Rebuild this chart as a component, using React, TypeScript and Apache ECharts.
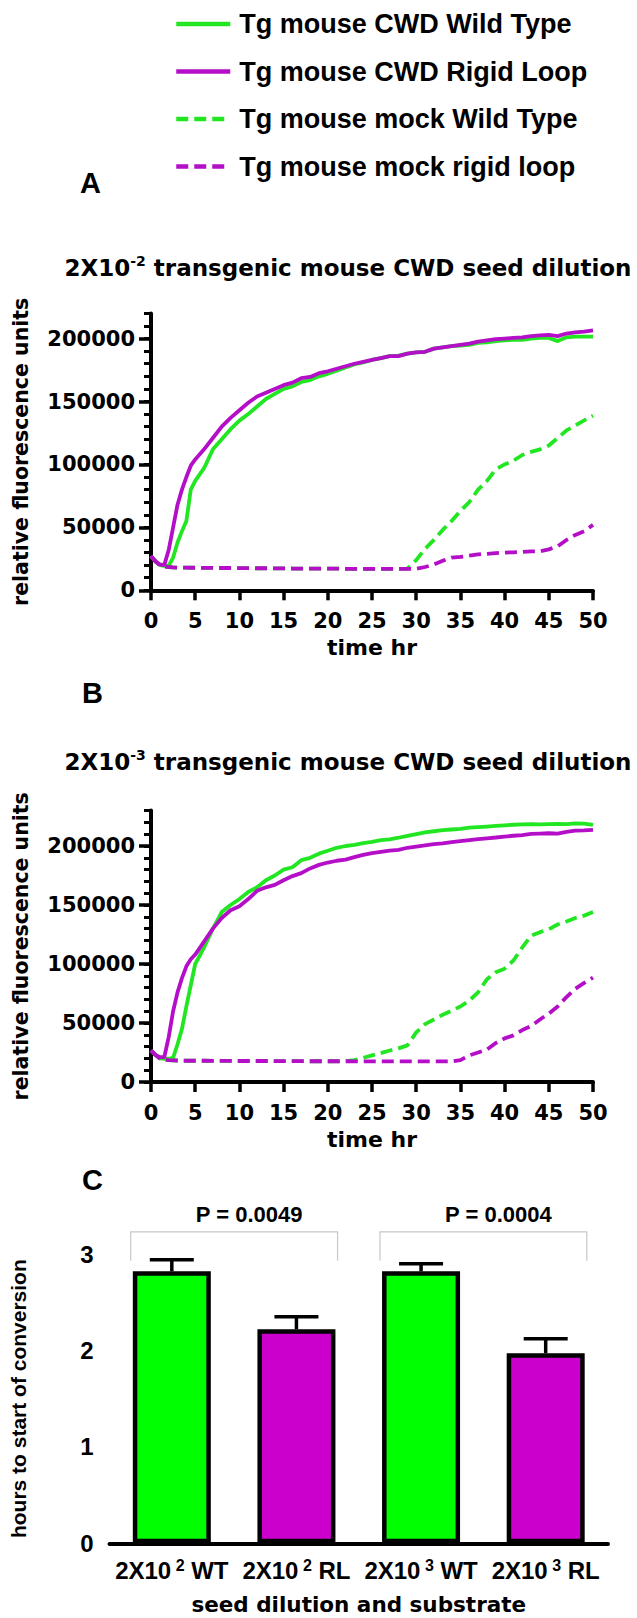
import React, { useEffect, useRef } from "react";
import * as echarts from "echarts";

// ---------- data ----------
const seriesNames = [
  "Tg mouse CWD Wild Type",
  "Tg mouse CWD Rigid Loop",
  "Tg mouse mock Wild Type",
  "Tg mouse mock rigid loop",
];

const timeHr = [
  0, 0.5, 1, 1.5, 2, 2.5, 3, 3.5, 4, 4.5, 5,
  6, 7, 8, 9, 10, 11, 12, 13, 14, 15,
  16, 17, 18, 19, 20, 21, 22, 23, 24, 25,
  26, 27, 28, 29, 30, 31, 32, 33, 34, 35,
  36, 37, 38, 39, 40, 41, 42, 43, 44, 45,
  46, 47, 48, 49, 50,
];

// Panel A: 2X10^-2 seed dilution
const aCwdWT = [
  27000, 23000, 20000, 19500, 19500, 26000, 38000, 47000, 55000, 80000, 87000,
  97000, 112000, 120000, 128000, 134800, 140000, 146000, 152000, 156000, 160000,
  162000, 165500, 167000, 170000, 172000, 174500, 177000, 179500, 181000, 183000,
  184500, 186000, 186500, 188000, 189000, 189500, 192000, 193000, 194000, 194500,
  195000, 196500, 197000, 198000, 198500, 199000, 199000, 200000, 200500, 200500,
  198000, 201000, 201500, 201500, 201500,
];
const aCwdRL = [
  27000, 23000, 20500, 20000, 32000, 50000, 68000, 80000, 90000, 99000, 104000,
  112000, 121000, 130000, 137000, 143000, 149000, 154000, 157000, 160000, 163000,
  165000, 168500, 169500, 172500, 174000, 176000, 178000, 180000, 181500, 183000,
  184500, 186000, 186000, 188000, 189000, 189500, 192000, 193000, 194000, 195000,
  196000, 197500, 198500, 199500, 200000, 200500, 201000, 202000, 202500, 203000,
  202000, 204000, 205000, 205500, 206500,
];
const aMockWT = [
  27000, 23000, 20000, 19000, 18500, 18200, 18000, 18000, 18000, 17900, 17900,
  17800, 17800, 17700, 17700, 17600, 17600, 17500, 17500, 17400, 17400,
  17300, 17300, 17300, 17200, 17200, 17200, 17100, 17100, 17100, 17000,
  17000, 17000, 17000, 17200, 24000, 33000, 40000, 48000, 55000, 63000,
  70000, 80000, 87000, 96000, 100000, 103000, 107500, 110000, 112000, 115000,
  121000, 127000, 131000, 135000, 138800,
];
const aMockRL = [
  27000, 23000, 20000, 19000, 18500, 18200, 18000, 18000, 18000, 17900, 17900,
  17800, 17800, 17700, 17700, 17600, 17600, 17500, 17500, 17400, 17400,
  17300, 17300, 17300, 17200, 17200, 17200, 17100, 17100, 17100, 17000,
  17000, 17000, 17000, 17000, 17000, 18500, 20500, 23500, 26000, 26500,
  27500, 28500, 29000, 29500, 30000, 30200, 30500, 31000, 31000, 32500,
  35000, 40000, 44000, 47000, 52000,
];

// Panel B: 2X10^-3 seed dilution
const bCwdWT = [
  26700, 23000, 20000, 19700, 19700, 20500, 32000, 45000, 64000, 82000, 100000,
  114000, 130000, 144000, 150000, 155000, 161000, 165000, 171000, 175000, 180000,
  182000, 188000, 190000, 193500, 196000, 198500, 200000, 201000, 202500, 203500,
  205000, 205700, 207000, 208500, 210000, 211500, 212500, 213500, 214000, 214500,
  215500, 216000, 216500, 217000, 217500, 218000, 218300, 218500, 218300, 218600,
  218800, 218600, 219200, 219000, 217800,
];
const bCwdRL = [
  26700, 23000, 21000, 21000, 38000, 60000, 76000, 88000, 98000, 104000, 108000,
  119000, 130000, 139000, 145500, 149000, 155000, 162000, 165000, 167000, 171000,
  174500, 177000, 181000, 184000, 186000, 187500, 188500, 190500, 192500, 193900,
  195000, 196000, 196800, 198500, 199500, 200500, 201500, 202300, 203300, 204200,
  205000, 205800, 206500, 207200, 208000, 208700, 209300, 210200, 210500, 210800,
  210500, 212000, 213000, 213200, 213600,
];
const bMockWT = [
  26700, 23000, 20000, 19000, 18500, 18300, 18200, 18100, 18000, 18000, 18000,
  18000, 17900, 17900, 17900, 17800, 17800, 17800, 17800, 17700, 17700,
  17700, 17700, 17600, 17600, 17600, 17600, 17600, 18500, 20500, 22500,
  24500, 26700, 28500, 31000, 42000, 49000, 53000, 57000, 60500, 64000,
  69000, 76000, 87000, 93000, 96000, 103000, 114000, 124000, 127000, 129500,
  133500, 136000, 139000, 141000, 144000,
];
const bMockRL = [
  26700, 23000, 20000, 19000, 18500, 18300, 18200, 18100, 18000, 18000, 18000,
  18000, 17900, 17900, 17900, 17800, 17800, 17800, 17800, 17700, 17700,
  17700, 17700, 17600, 17600, 17600, 17600, 17600, 17500, 17500, 17500,
  17500, 17500, 17500, 17500, 17500, 17500, 17500, 17500, 17500, 18500,
  22500, 25000, 27500, 33000, 37000, 39500, 44000, 47500, 53000, 58000,
  64000, 72000, 79000, 84000, 88500,
];

const yTicksAB = [0, 50000, 100000, 150000, 200000];
const xTicksAB = [0, 5, 10, 15, 20, 25, 30, 35, 40, 45, 50];

// Panel C
const barCategories = ["2X10^2 WT", "2X10^2 RL", "2X10^3 WT", "2X10^3 RL"];
const barMeans = [2.82, 2.22, 2.82, 1.97];
const barErrors = [0.12, 0.13, 0.08, 0.15];
const bracketFrom = [0, 2];
const bracketTo = [1, 3];
const bracketTop = [3.23, 3.23];
const bracketFoot = [2.93, 2.93];
const pLabels = ["P = 0.0049", "P = 0.0004"];

// ---------- styles ----------
const WIDE = '"DejaVu Sans", sans-serif';
const ARIAL = '"Liberation Sans", Arial, sans-serif';
const GREEN_LINE = "#22e622";
const MAGENTA_LINE = "#b40ec8";
const GREEN_BAR = "#00ff00";
const MAGENTA_BAR = "#cc00cc";
const DASH = [12, 6];

const lineColors = [GREEN_LINE, MAGENTA_LINE, GREEN_LINE, MAGENTA_LINE];
const lineTypes: any[] = ["solid", "solid", DASH, DASH];
const lineZ = [2, 4, 3, 5];

function pairs(vals: number[]) {
  return timeHr.map((t, i) => [t, vals[i]]);
}

function lineSeries(dataSets: number[][], xIdx: number, yIdx: number) {
  return dataSets.map((vals, k) => ({
    type: "line",
    name: seriesNames[k],
    xAxisIndex: xIdx,
    yAxisIndex: yIdx,
    data: pairs(vals),
    symbol: "none",
    showSymbol: false,
    z: lineZ[k],
    lineStyle: { color: lineColors[k], width: 3.8, type: lineTypes[k] },
    itemStyle: { color: lineColors[k] },
  }));
}

const axisBlack = { lineStyle: { color: "#000", width: 4 } };

function timeXAxis(gridIndex: number) {
  return {
    gridIndex,
    type: "value",
    min: 0,
    max: 50,
    interval: 5,
    axisLine: { onZero: false, ...axisBlack },
    axisTick: { length: 10, lineStyle: { color: "#000", width: 3.5 } },
    axisLabel: {
      margin: 19,
      color: "#000",
      fontFamily: WIDE,
      fontWeight: "bold",
      fontSize: 21,
      lineHeight: 23,
      customValues: xTicksAB,
    },
    splitLine: { show: false },
    name: "time hr",
    nameLocation: "middle",
    nameGap: 46,
    nameMoveOverlap: false,
    nameTextStyle: { color: "#000", fontFamily: WIDE, fontWeight: "bold", fontSize: 22, lineHeight: 22 },
  };
}

function rfuYAxes(gridIndex: number, max: number) {
  return [
    {
      gridIndex,
      type: "value",
      position: "left",
      offset: 0,
      min: 0,
      max,
      interval: 10000,
      axisLine: axisBlack,
      axisTick: { length: 7, lineStyle: { color: "#000", width: 3 } },
      axisLabel: {
        margin: 16,
        color: "#000",
        fontFamily: WIDE,
        fontWeight: "bold",
        fontSize: 21,
        formatter: (v: number) => (yTicksAB.indexOf(v) >= 0 ? String(v) : ""),
      },
      splitLine: { show: false },
      name: "relative fluorescence units",
      nameLocation: "middle",
      nameRotate: 90,
      nameGap: 120,
      nameMoveOverlap: false,
      nameTextStyle: { color: "#000", fontFamily: WIDE, fontWeight: "bold", fontSize: 20.5, lineHeight: 21 },
    },
    {
      gridIndex,
      type: "value",
      position: "left",
      offset: 0,
      min: 0,
      max,
      interval: 50000,
      axisLine: { show: false },
      axisTick: { length: 12, lineStyle: { color: "#000", width: 3.5 }, customValues: yTicksAB },
      axisLabel: { show: false },
      splitLine: { show: false },
    },
  ];
}

function titleGraphic(exp: string, y: number) {
  return {
    type: "text",
    x: 348,
    y,
    style: {
      text: `{m|2X10}{s|${exp}}{m| transgenic mouse CWD seed dilution}`,
      align: "center",
      verticalAlign: "middle",
      fill: "#000",
      rich: {
        m: { fontFamily: WIDE, fontWeight: "bold", fontSize: 23, lineHeight: 28, fill: "#000" },
        s: { fontFamily: WIDE, fontWeight: "bold", fontSize: 14, lineHeight: 16, verticalAlign: "top", fill: "#000" },
      },
    },
  };
}

function letterGraphic(letter: string, x: number, y: number) {
  return {
    type: "text",
    x,
    y,
    style: {
      text: letter,
      fontFamily: ARIAL,
      fontWeight: "bold",
      fontSize: 29,
      fill: "#000",
      align: "left",
      verticalAlign: "middle",
    },
  };
}

export default function App() {
  const ref = useRef<HTMLDivElement>(null);

  useEffect(() => {
    if (!ref.current) return;
    const chart = echarts.init(ref.current, undefined, { renderer: "svg" });

    const option: any = {
      animation: false,
      backgroundColor: "#fff",
      legend: {
        data: seriesNames,
        orient: "vertical",
        left: 169,
        top: 4,
        itemWidth: 54,
        itemHeight: 14,
        itemGap: 17.5,
        selectedMode: false,
        itemStyle: { opacity: 0 },
        lineStyle: { width: 4.5 },
        textStyle: {
          color: "#000",
          fontFamily: ARIAL,
          fontWeight: "bold",
          fontSize: 27,
          lineHeight: 30,
          padding: [0, 0, 0, 4],
        },
      },
      graphic: [
        letterGraphic("A", 80, 183),
        letterGraphic("B", 82, 693),
        letterGraphic("C", 82, 1180),
        titleGraphic("-2", 268),
        titleGraphic("-3", 762),
      ],
      grid: [
        { left: 151, top: 313.4, width: 442, height: 276.9, outerBoundsMode: "none" },
        { left: 151, top: 810.6, width: 442, height: 271.4, outerBoundsMode: "none" },
        { left: 109.5, top: 1254, width: 498.5, height: 289.3, outerBoundsMode: "none" },
      ],
      xAxis: [
        timeXAxis(0),
        timeXAxis(1),
        {
          gridIndex: 2,
          type: "category",
          data: barCategories,
          axisLine: { onZero: false, ...axisBlack },
          axisTick: { alignWithLabel: true, length: 10, lineStyle: { color: "#000", width: 4 } },
          axisLabel: {
            margin: 14,
            interval: 0,
            formatter: (v: string) => {
              const [base, rest] = v.split("^");
              const sp = rest.indexOf(" ");
              return `{a|${base}}{s| ${rest.slice(0, sp)}}{a|${rest.slice(sp)}}`;
            },
            rich: {
              a: { fontFamily: ARIAL, fontWeight: "bold", fontSize: 24, lineHeight: 27, color: "#000" },
              s: { fontFamily: ARIAL, fontWeight: "bold", fontSize: 16, lineHeight: 16, verticalAlign: "top", color: "#000" },
            },
          },
          name: "seed dilution and substrate",
          nameLocation: "middle",
          nameGap: 50,
          nameMoveOverlap: false,
          nameTextStyle: { color: "#000", fontFamily: WIDE, fontWeight: "bold", fontSize: 21.5, lineHeight: 22 },
        },
      ],
      yAxis: [
        ...rfuYAxes(0, 220000),
        ...rfuYAxes(1, 230000),
        {
          gridIndex: 2,
          type: "value",
          position: "left",
          min: 0,
          max: 3,
          interval: 1,
          axisLine: axisBlack,
          axisTick: { length: 13, lineStyle: { color: "#000", width: 3.5 } },
          axisLabel: { margin: 16, color: "#000", fontFamily: ARIAL, fontWeight: "bold", fontSize: 24 },
          splitLine: { show: false },
          name: "hours to start of conversion",
          nameLocation: "middle",
          nameRotate: 90,
          nameGap: 80,
          nameMoveOverlap: false,
          nameTextStyle: { color: "#000", fontFamily: ARIAL, fontWeight: "bold", fontSize: 21, lineHeight: 22 },
        },
      ],
      series: [
        ...lineSeries([aCwdWT, aCwdRL, aMockWT, aMockRL], 0, 0),
        ...lineSeries([bCwdWT, bCwdRL, bMockWT, bMockRL], 1, 2),
        {
          type: "bar",
          xAxisIndex: 2,
          yAxisIndex: 4,
          barWidth: 78,
          z: 2,
          data: barMeans.map((v, i) => ({
            value: v,
            itemStyle: { color: barCategories[i].endsWith("WT") ? GREEN_BAR : MAGENTA_BAR },
          })),
          itemStyle: { borderColor: "#000", borderWidth: 4.5 },
        },
        {
          type: "custom",
          xAxisIndex: 2,
          yAxisIndex: 4,
          z: 3,
          clip: false,
          encode: { x: 0, y: 1 },
          data: barCategories.map((c, i) => [c, barMeans[i], barErrors[i]]),
          renderItem: (params: any, api: any) => {
            const base = api.coord([api.value(0), api.value(1)]);
            const top = api.coord([api.value(0), api.value(1) + api.value(2)]);
            return {
              type: "group",
              children: [
                { type: "line", shape: { x1: base[0], y1: base[1], x2: top[0], y2: top[1] }, style: { stroke: "#000", lineWidth: 3.5 } },
                { type: "line", shape: { x1: top[0] - 22, y1: top[1], x2: top[0] + 22, y2: top[1] }, style: { stroke: "#000", lineWidth: 3.5 } },
              ],
            };
          },
        },
        {
          type: "custom",
          xAxisIndex: 2,
          yAxisIndex: 4,
          z: 3,
          clip: false,
          encode: { x: [0, 1], y: [2, 3] },
          data: bracketFrom.map((f, i) => [barCategories[f], barCategories[bracketTo[i]], bracketTop[i], bracketFoot[i]]),
          renderItem: (params: any, api: any) => {
            const i = params.dataIndex;
            const a = api.coord([api.value(0), api.value(2)]);
            const b = api.coord([api.value(1), api.value(2)]);
            const foot = api.coord([api.value(0), api.value(3)]);
            const half = api.size([1, 0])[0] * 0.33;
            const x1 = a[0] - half;
            const x2 = b[0] + half;
            return {
              type: "group",
              children: [
                {
                  type: "polyline",
                  shape: { points: [[x1, foot[1]], [x1, a[1]], [x2, a[1]], [x2, foot[1]]] },
                  style: { stroke: "#c8c8c8", lineWidth: 1.2, fill: null },
                },
                {
                  type: "text",
                  x: (x1 + x2) / 2 + 15,
                  y: a[1] - 17,
                  style: {
                    text: pLabels[i],
                    fontFamily: ARIAL,
                    fontWeight: "bold",
                    fontSize: 22,
                    fill: "#000",
                    align: "center",
                    verticalAlign: "middle",
                  },
                },
              ],
            };
          },
        },
      ],
    };

    chart.setOption(option);
    return () => chart.dispose();
  }, []);

  return (
    <div
      ref={ref}
      style={{ position: "absolute", left: 0, top: 0, width: 637, height: 1618, background: "#fff" }}
    />
  );
}
